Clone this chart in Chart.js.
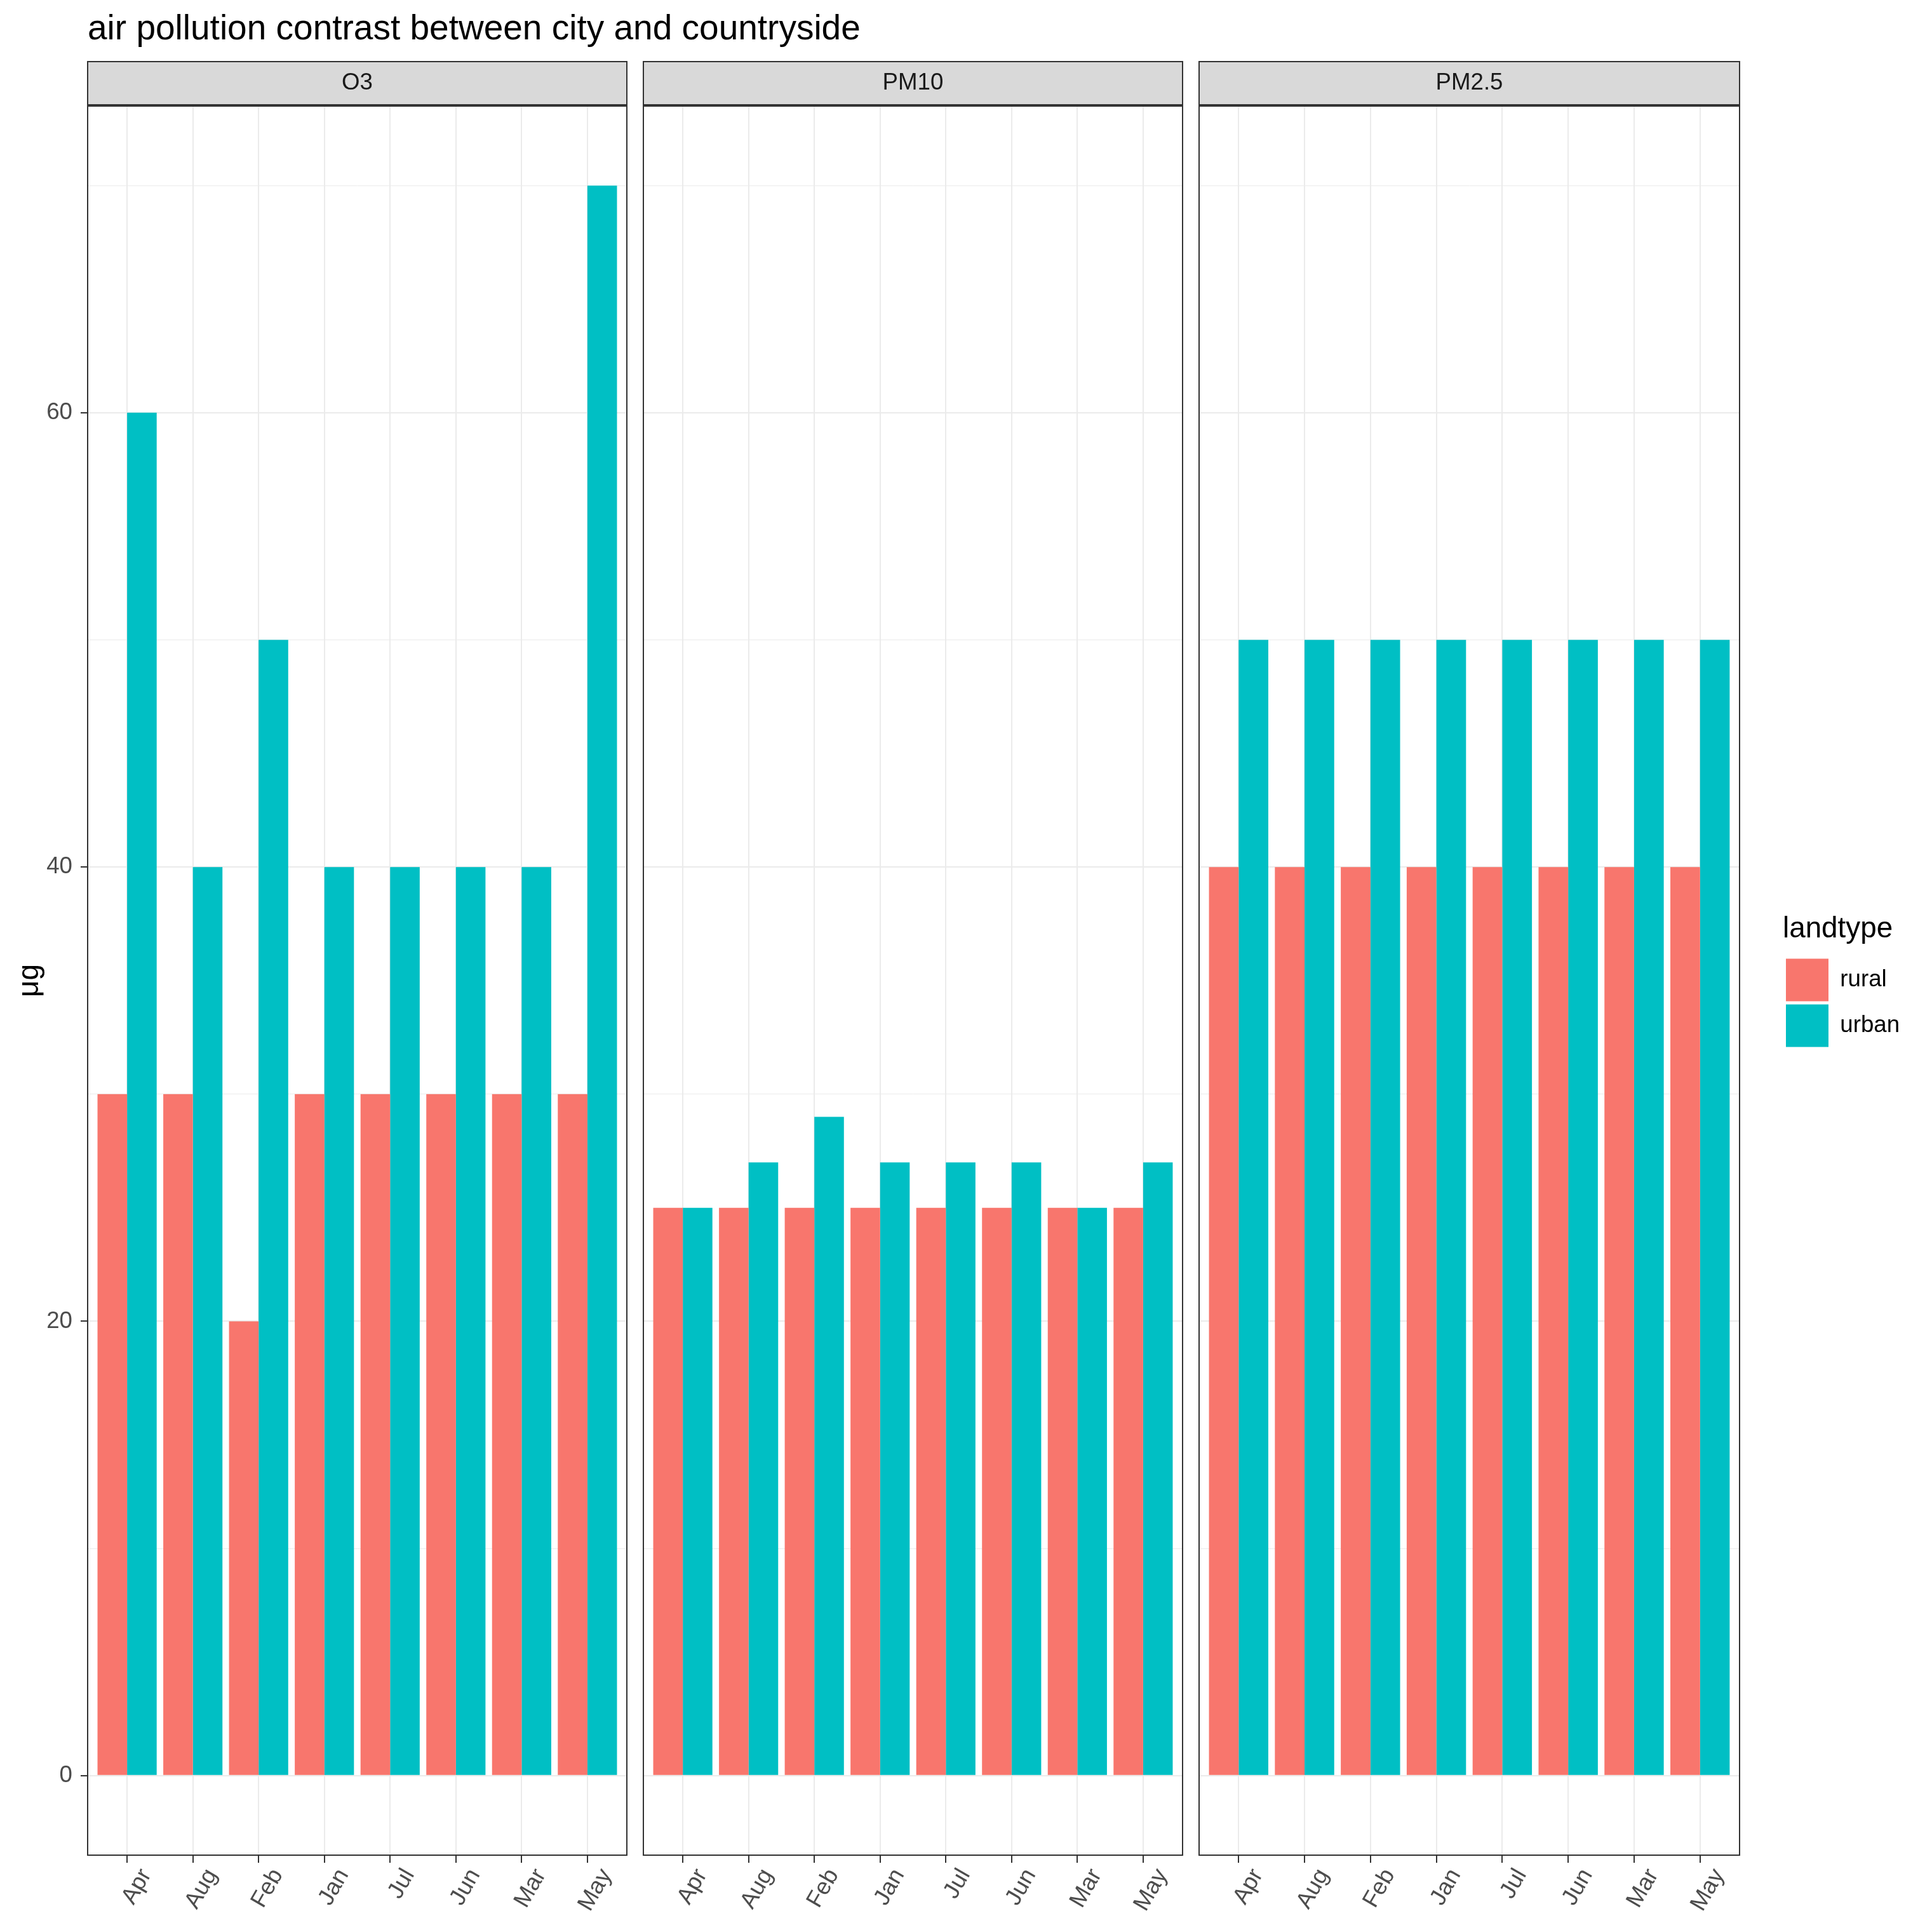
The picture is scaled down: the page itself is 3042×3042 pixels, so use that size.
<!DOCTYPE html>
<html>
<head>
<meta charset="utf-8">
<script src="https://cdn.jsdelivr.net/npm/chart.js@4.4.1/dist/chart.umd.min.js"></script>
<style>
  html, body { margin: 0; padding: 0; background: #fff; }
  #page { position: relative; width: 3042px; height: 3042px; overflow: hidden; background: #fff; }
  #title { position: absolute; left: 138px; top: 16px; font-family: 'Liberation Sans', Arial, sans-serif;
           font-size: 55px; line-height: 55px; color: #000; white-space: nowrap; }
  canvas { position: absolute; top: 87px; }
</style>
</head>
<body>
<div id="page">
  <div id="title">air pollution contrast between city and countryside</div>
  <canvas id="c1" width="1000" height="2955" style="left:0px"></canvas>
  <canvas id="c2" width="875" height="2955" style="left:1000px"></canvas>
  <canvas id="c3" width="1167" height="2955" style="left:1875px"></canvas>
</div>
<script>
// values
const MONTHS = ['Apr', 'Aug', 'Feb', 'Jan', 'Jul', 'Jun', 'Mar', 'May'];
const POLLUTANTS = ['O3', 'PM10', 'PM2.5'];
const LANDTYPES = ['rural', 'urban'];

const O3_RURAL = [30, 30, 20, 30, 30, 30, 30, 30];
const O3_URBAN = [60, 40, 50, 40, 40, 40, 40, 70];
const PM10_RURAL = [25, 25, 25, 25, 25, 25, 25, 25];
const PM10_URBAN = [25, 27, 29, 27, 27, 27, 25, 27];
const PM25_RURAL = [40, 40, 40, 40, 40, 40, 40, 40];
const PM25_URBAN = [50, 50, 50, 50, 50, 50, 50, 50];

const Y_TICKS = [0, 10, 20, 30, 40, 50, 60, 70];   // gridlines, labels every 20

const COLORS = { rural: '#F8766D', urban: '#00BFC4' };
const FONT = "'Liberation Sans', Arial, sans-serif";
const LEGEND_W = 235;

Chart.defaults.font.family = FONT;

// panel border + grey strip header above each panel
const stripPlugin = {
  id: 'strip',
  afterDatasetsDraw(chart, args, opts) {
    const { ctx, chartArea: a } = chart;
    ctx.save();
    ctx.strokeStyle = '#333333';
    ctx.lineWidth = 2;
    ctx.strokeRect(a.left, a.top, a.right - a.left, a.bottom - a.top);
    ctx.fillStyle = '#D9D9D9';
    ctx.fillRect(a.left, a.top - 70, a.right - a.left, 68);
    ctx.strokeRect(a.left, a.top - 70, a.right - a.left, 68);
    ctx.fillStyle = '#1A1A1A';
    ctx.font = '36.7px ' + FONT;
    ctx.textAlign = 'center';
    ctx.textBaseline = 'middle';
    ctx.fillText(opts.text, (a.left + a.right) / 2, a.top - 36);
    ctx.restore();
  }
};

// keep the legend a fixed width so the last panel lines up with the others
const legendWidthPlugin = {
  id: 'legendWidth',
  beforeLayout(chart) {
    const lg = chart.legend;
    if (!lg || lg._fixedWidth) return;
    const fit = lg.fit;
    lg.fit = function () { fit.call(this); this.width = LEGEND_W; };
    lg._fixedWidth = true;
  }
};

function makePanel(canvasId, idx, rural, urban) {
  const first = idx === 0;
  const last = idx === POLLUTANTS.length - 1;
  const major = c => c.tick && c.tick.value % 20 === 0;

  const scales = {
    x: {
      type: 'linear',
      min: -0.6,
      max: MONTHS.length - 0.4,
      offset: false,
      afterBuildTicks: s => { s.ticks = MONTHS.map((m, i) => ({ value: i })); },
      afterFit: s => { s.height = 121; },
      grid: { color: '#EBEBEB', lineWidth: 2, offset: false, tickColor: '#333333', tickLength: 12, tickWidth: 2 },
      border: { display: false },
      ticks: {
        autoSkip: false, minRotation: 60, maxRotation: 60, padding: 2, labelOffset: 30,
        color: '#4D4D4D', font: { size: 36.7 },
        callback: (v, i) => MONTHS[i]
      }
    },
    y: {
      min: -3.5,
      max: 73.5,
      afterBuildTicks: s => { s.ticks = Y_TICKS.map(v => ({ value: v })); },
      afterFit: s => { s.width = first ? 138 : 0; },
      grid: {
        color: '#EBEBEB',
        lineWidth: c => major(c) ? 2 : 1,
        drawTicks: first,
        tickLength: 11,
        tickWidth: 2,
        tickColor: c => major(c) ? '#333333' : 'rgba(0,0,0,0)'
      },
      border: { display: false },
      ticks: {
        display: first, padding: 13, color: '#4D4D4D', font: { size: 36.7 },
        callback: v => v % 20 === 0 ? v : ''
      },
      title: { display: first, text: 'μg', color: '#000', font: { size: 45.8 }, padding: { top: 20, bottom: 0 } }
    }
  };

  // spacer between the last panel and the legend
  if (last) {
    scales.y2 = {
      position: 'right', display: true,
      grid: { display: false, drawTicks: false },
      border: { display: false },
      ticks: { display: false },
      afterFit: s => { s.width = 68; }
    };
  }

  return new Chart(document.getElementById(canvasId), {
    type: 'bar',
    data: {
      labels: MONTHS.map((m, i) => i),
      datasets: [
        { label: LANDTYPES[0], data: rural, backgroundColor: COLORS.rural, borderWidth: 0,
          categoryPercentage: 0.9, barPercentage: 1 },
        { label: LANDTYPES[1], data: urban, backgroundColor: COLORS.urban, borderWidth: 0,
          categoryPercentage: 0.9, barPercentage: 1 }
      ]
    },
    options: {
      responsive: false,
      animation: false,
      devicePixelRatio: 1,
      layout: { padding: { left: first ? 0 : 13, right: last ? 0 : 13, top: 80, bottom: 0 } },
      scales: scales,
      plugins: {
        strip: { text: POLLUTANTS[idx] },
        tooltip: { enabled: false },
        legend: {
          display: last,
          position: 'right',
          align: 'center',
          fullSize: false,
          title: { display: true, text: 'landtype', color: '#000', position: 'start',
                   font: { size: 45.8 }, padding: { top: 6, bottom: 9 } },
          labels: { boxWidth: 67, boxHeight: 67, padding: 5, color: '#000', font: { size: 36.7 } }
        }
      }
    },
    plugins: last ? [stripPlugin, legendWidthPlugin] : [stripPlugin]
  });
}

makePanel('c1', 0, O3_RURAL, O3_URBAN);
makePanel('c2', 1, PM10_RURAL, PM10_URBAN);
makePanel('c3', 2, PM25_RURAL, PM25_URBAN);
</script>
</body>
</html>
